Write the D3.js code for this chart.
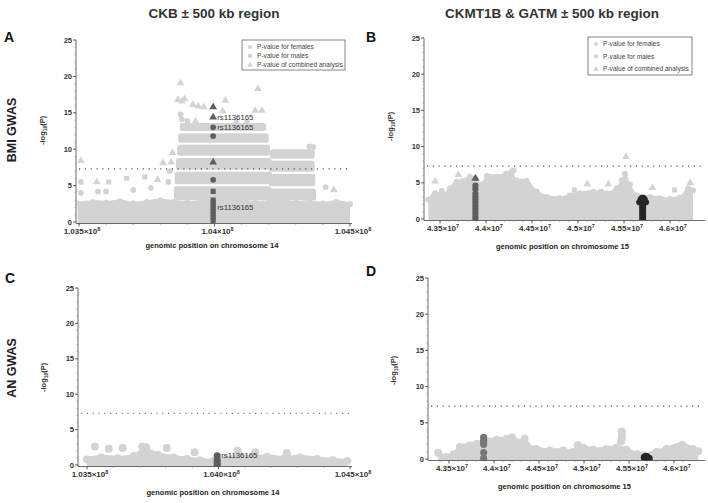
<!DOCTYPE html>
<html lang="en">
<head>
<meta charset="utf-8">
<title>CKB and CKMT1B / GATM regional plots</title>
<script src="https://d3js.org/d3.v7.min.js"></script>
<style>
  body { margin: 0; background: #fff; }
  svg text { font-family: "Liberation Sans", Arial, sans-serif; }
</style>
</head>
<body>
<div id="vis"></div>
<script>
// positions in Mb, values are -log10(P)
const yTicks = [0, 5, 10, 15, 20, 25];
const sigLevel = 7.3;
const snpName = "rs1136165";

const chr14Ticks = [103.5, 104.0, 104.5];
const chr14LabelsA = ["1.035", "1.04", "1.045"];
const chr14LabelsC = ["1.035", "1.040", "1.045"];
const chr15Ticks = [43.5, 44.0, 44.5, 45.0, 45.5, 46.0];
const chr15Labels = ["4.35", "4.4", "4.45", "4.5", "4.55", "4.6"];

const legendLabels = ["P-value for females", "P-value for males", "P-value of combined analysis"];

// ---- panel A : BMI GWAS, CKB region ----
const envPosA = [103.495, 103.55, 103.6, 103.65, 103.7, 103.75, 103.8, 103.85, 103.9, 103.95, 104.0, 104.05, 104.1, 104.15, 104.2, 104.25, 104.3, 104.35, 104.4, 104.45, 104.5];
const envValA = [2.8, 3.0, 2.9, 3.1, 2.8, 3.0, 3.2, 3.0, 2.9, 3.0, 3.2, 3.0, 3.1, 2.9, 3.0, 3.1, 2.9, 3.0, 2.8, 3.0, 2.7];
// stacked rows of SNPs in the association peak
const rowStartA = [103.85, 103.853, 103.858, 103.862, 103.866, 103.872, 104.2, 104.2, 104.2, 104.205];
const rowEndA   = [104.21, 104.212, 104.21, 104.205, 104.2, 104.19, 104.375, 104.372, 104.37, 104.37];
const rowLowA   = [3.0, 5.2, 7.2, 9.1, 10.9, 12.5, 3.0, 4.9, 6.9, 8.7];
const rowHighA  = [4.9, 6.9, 8.8, 10.6, 12.2, 13.6, 4.6, 6.6, 8.4, 10.0];
const outPosA = [103.507, 103.507, 103.507, 103.566, 103.61, 103.57, 103.6, 103.676, 103.70, 103.743, 103.79, 103.765, 103.81, 103.845, 103.83,
                 103.875, 103.865, 103.88, 103.89, 103.875, 103.92, 103.94, 103.96, 104.04, 104.03, 104.16, 104.15, 104.175, 104.41, 104.44,
                 103.9, 103.93, 104.08, 104.12, 103.88, 104.35, 104.365, 103.835, 103.84];
const outValA = [8.4, 5.5, 4.0, 5.5, 5.5, 4.2, 4.2, 6.0, 4.4, 6.2, 5.8, 4.7, 8.1, 9.5, 5.5,
                 19.1, 16.8, 16.6, 16.9, 14.8, 16.1, 15.9, 15.8, 16.7, 15.2, 18.3, 15.3, 15.3, 4.8, 4.4,
                 13.9, 13.8, 13.8, 13.7, 14.1, 10.4, 10.3, 7.0, 8.2];
const outShapeA = ["t", "c", "c", "t", "s", "c", "c", "s", "c", "s", "t", "c", "t", "t", "c",
                   "t", "t", "t", "t", "c", "t", "t", "t", "t", "t", "t", "t", "t", "c", "t",
                   "c", "t", "t", "c", "c", "c", "c", "c", "t"];
const snpPosA = 103.995;
const snpValA = [15.8, 14.4, 13.0, 11.8, 8.2, 5.8, 4.2, 3.0, 2.6, 2.2, 1.8, 1.4, 1.0, 0.6, 0.2];
const snpShapeA = ["t", "t", "c", "c", "t", "c", "s", "s", "s", "s", "s", "s", "s", "s", "s"];
const snpLabelValA = [14.4, 13.0, 2.0];

// ---- panel B : BMI GWAS, CKMT1B & GATM region ----
const envPosB = [43.373, 43.446, 43.536, 43.609, 43.68, 43.75, 43.826, 43.88, 43.95, 44.01, 44.12, 44.22, 44.28, 44.33, 44.44, 44.55, 44.66, 44.8,
                 44.91, 45.02, 45.17, 45.31, 45.42, 45.475, 45.51, 45.565, 45.64, 45.78, 45.89, 46.0, 46.11, 46.2, 46.25];
const envValB = [2.9, 3.8, 3.6, 4.5, 5.4, 5.5, 6.1, 5.8, 5.0, 6.2, 6.1, 6.5, 6.8, 5.6, 5.5, 4.0, 3.3, 3.1,
                 3.5, 3.8, 4.0, 3.8, 4.5, 5.6, 6.5, 5.0, 3.5, 3.3, 3.1, 3.0, 3.2, 4.5, 4.2];
const outPosB = [43.446, 43.52, 45.52, 45.1, 45.33, 45.81, 45.25, 46.05, 46.22, 44.96, 43.7, 44.3];
const outValB = [5.2, 3.9, 8.6, 4.8, 4.8, 4.3, 3.8, 4.0, 5.0, 4.0, 6.1, 6.7];
const outShapeB = ["t", "c", "t", "t", "t", "t", "s", "s", "t", "s", "t", "c"];
const ckmtPosB = 43.885;
const ckmtValB = [5.6, 4.6, 4.1, 3.5, 3.1, 2.7, 2.3, 1.9, 1.5, 1.1, 0.7, 0.3, 0.0];
const ckmtShapeB = ["t", "c", "c", "c", "c", "c", "c", "c", "c", "c", "c", "c", "c"];
const gatmPosB = [45.665, 45.68, 45.695, 45.71, 45.725, 45.74];
const gatmTopB = [2.6, 3.0, 3.2, 3.2, 3.0, 2.6];

// ---- panel C : AN GWAS, CKB region ----
const envPosC = [103.5, 103.553, 103.617, 103.678, 103.716, 103.77, 103.83, 103.88, 103.93, 103.98, 104.03, 104.08, 104.13, 104.185, 104.25, 104.31, 104.375, 104.435, 104.49];
const envValC = [1.1, 1.4, 1.3, 1.6, 2.4, 1.8, 1.4, 1.2, 1.0, 0.9, 1.2, 1.6, 1.4, 1.5, 1.3, 1.4, 1.2, 1.0, 0.9];
const outPosC = [103.53, 103.583, 103.636, 103.71, 103.725, 103.803, 103.909, 104.072, 104.14, 104.26];
const outValC = [2.6, 2.3, 2.4, 2.6, 2.5, 2.4, 1.8, 2.0, 1.8, 1.7];
const snpPosC = 103.995;
const snpValC = [1.3, 0.7, 0.3, 0.0];

// ---- panel D : AN GWAS, CKMT1B & GATM region ----
const envPosD = [43.38, 43.47, 43.55, 43.62, 43.73, 43.81, 43.92, 44.03, 44.14, 44.2, 44.29, 44.36, 44.47, 44.62, 44.77, 44.88, 44.99, 45.1,
                 45.25, 45.36, 45.47, 45.59, 45.66, 45.75, 45.81, 45.92, 46.09, 46.21, 46.27];
const envValD = [1.2, 0.6, 1.0, 2.0, 2.2, 2.4, 2.8, 3.0, 3.1, 3.3, 2.6, 2.2, 1.7, 1.5, 1.5, 1.3, 1.9, 1.6,
                 1.7, 1.9, 1.6, 1.0, 0.8, 0.9, 1.3, 1.7, 2.3, 1.7, 1.4];
const outPosD = [44.34, 45.42, 45.42, 45.42, 45.41, 44.93];
const outValD = [2.8, 3.8, 3.3, 2.8, 2.4, 1.9];
const ckmtPosD = 43.885;
const ckmtValD = [3.0, 2.6, 2.3, 2.0, 0.9, 0.1];
const gatmPosD = [45.675, 45.69, 45.705, 45.72];
const gatmValD = [0.5, 0.6, 0.4, 0.3];

// ---- drawing ----
const W = 708, H = 503;
const grey = "#d3d3d3", darkGrey = "#5e5e5e", black = "#262626";

const svg = d3.select("#vis").append("svg")
  .attr("width", W).attr("height", H)
  .style("display", "block");

function sym(shape, size) {
  const t = shape === "t" ? d3.symbolTriangle : shape === "s" ? d3.symbolSquare : d3.symbolCircle;
  return d3.symbol().type(t).size(size)();
}

function drawPanel(p) {
  const x = d3.scaleLinear().domain(p.xDomain).range(p.xRange);
  const y = d3.scaleLinear().domain([0, 25]).range(p.yRange);
  const g = svg.append("g");
  const y0 = y(0);
  const axisY = y0 + 1.5;

  // clip to plot
  const clipId = "clip" + p.id;
  svg.append("clipPath").attr("id", clipId).append("rect")
    .attr("x", p.axisLeft + 1).attr("y", y(26)).attr("width", p.axisRight - p.axisLeft).attr("height", axisY - y(26));
  const plot = g.append("g").attr("clip-path", `url(#${clipId})`);

  // dense SNP cloud
  const area = d3.area()
    .x(d => x(d[0])).y0(y0 + 1).y1(d => y(d[1]))
    .curve(d3.curveMonotoneX);
  const env = p.envPos.map((v, i) => [v, p.envVal[i]]);
  plot.append("path").datum(env).attr("d", area).attr("fill", grey);
  plot.selectAll(null).data(env).enter().append("circle")
    .attr("cx", d => x(d[0])).attr("cy", d => y(d[1]) + p.r * 0.6)
    .attr("r", p.r).attr("fill", grey);

  if (p.rowStart) {
    plot.selectAll(null).data(p.rowStart).enter().append("rect")
      .attr("x", (d, i) => x(d))
      .attr("width", (d, i) => x(p.rowEnd[i]) - x(d))
      .attr("y", (d, i) => y(p.rowHigh[i]))
      .attr("height", (d, i) => y(p.rowLow[i]) - y(p.rowHigh[i]))
      .attr("rx", 2.5)
      .attr("fill", grey);
  }

  // significance threshold
  g.append("line")
    .attr("x1", p.axisLeft + 3).attr("x2", p.axisRight - 2)
    .attr("y1", y(sigLevel)).attr("y2", y(sigLevel))
    .attr("stroke", "#555").attr("stroke-width", 1.1)
    .attr("stroke-dasharray", "1.2,4.6");

  // outlying SNPs
  if (p.outPos) {
    plot.selectAll(null).data(p.outPos).enter().append("path")
      .attr("d", (d, i) => sym(p.outShape ? p.outShape[i] : "c", p.symSize))
      .attr("transform", (d, i) => `translate(${x(d)},${y(p.outVal[i])})`)
      .attr("fill", grey);
  }

  // highlighted SNPs
  (p.hi || []).forEach(h => {
    plot.selectAll(null).data(h.vals).enter().append("path")
      .attr("d", (d, i) => sym(h.shapes ? h.shapes[i] : "c", h.size || p.symSize))
      .attr("transform", d => `translate(${x(h.pos)},${y(d)})`)
      .attr("fill", h.color);
  });
  (p.blocks || []).forEach(b => {
    const pts = b.pos.map((v, i) => [v, b.top[i]]);
    const a2 = d3.area().x(d => x(d[0])).y0(y0 + 1).y1(d => y(d[1])).curve(d3.curveMonotoneX);
    plot.append("path").datum(pts).attr("d", a2).attr("fill", b.color);
    plot.selectAll(null).data(pts).enter().append("circle")
      .attr("cx", d => x(d[0])).attr("cy", d => y(d[1]) + 2).attr("r", b.r)
      .attr("fill", b.color);
  });

  // SNP labels
  (p.labels || []).forEach(v => {
    g.append("text").attr("x", x(p.labelPos) + 4).attr("y", y(v) + 2.7)
      .attr("font-size", 7.8).attr("fill", "#333").text(snpName);
  });

  // y axis
  g.append("line").attr("x1", p.axisLeft).attr("x2", p.axisLeft)
    .attr("y1", y(25)).attr("y2", axisY).attr("stroke", "#444").attr("stroke-width", 0.8);
  const minor = d3.range(0, 26, 1);
  g.selectAll(null).data(minor).enter().append("line")
    .attr("x1", p.axisLeft - 1.5).attr("x2", p.axisLeft)
    .attr("y1", d => y(d)).attr("y2", d => y(d))
    .attr("stroke", "#888").attr("stroke-width", 0.6);
  g.selectAll(null).data(yTicks).enter().append("line")
    .attr("x1", p.axisLeft - 3).attr("x2", p.axisLeft)
    .attr("y1", d => y(d)).attr("y2", d => y(d))
    .attr("stroke", "#444").attr("stroke-width", 0.8);
  g.selectAll(null).data(yTicks).enter().append("text")
    .attr("x", p.axisLeft - 4).attr("y", d => y(d) + 2.6)
    .attr("text-anchor", "end").attr("font-size", 7.5).attr("font-weight", "bold").attr("fill", "#333")
    .text(d => d);

  // x axis
  g.append("line").attr("x1", p.axisLeft).attr("x2", p.axisRight)
    .attr("y1", axisY).attr("y2", axisY).attr("stroke", "#444").attr("stroke-width", 0.8);
  const xm = d3.range(p.xMinorStart, p.xDomain[1] + 0.15, p.xMinorStep)
    .filter(v => x(v) > p.axisLeft && x(v) < p.axisRight);
  g.selectAll(null).data(xm).enter().append("line")
    .attr("x1", d => x(d)).attr("x2", d => x(d))
    .attr("y1", axisY).attr("y2", axisY + 1.5).attr("stroke", "#888").attr("stroke-width", 0.6);
  g.selectAll(null).data(p.xTicks).enter().append("line")
    .attr("x1", d => x(d)).attr("x2", d => x(d))
    .attr("y1", axisY).attr("y2", axisY + 3).attr("stroke", "#444").attr("stroke-width", 0.8);
  const tl = g.selectAll(null).data(p.xTicks).enter().append("text")
    .attr("x", d => x(d) + 3).attr("y", axisY + 10.5)
    .attr("text-anchor", "middle").attr("font-size", 8).attr("font-weight", "bold").attr("fill", "#333");
  tl.append("tspan").text((d, i) => p.xLabels[i] + "×10");
  tl.append("tspan").attr("dy", -3).attr("font-size", 5.5).text(p.exp);

  // axis titles
  g.append("text").attr("x", (p.axisLeft + p.axisRight) / 2 - 2).attr("y", p.xTitleY)
    .attr("text-anchor", "middle").attr("font-size", 7.5).attr("font-weight", "bold").attr("fill", "#222")
    .text(p.xTitle);
  const yl = g.append("text")
    .attr("transform", `translate(${p.yTitleX},${p.yTitleBottom}) rotate(-90)`)
    .attr("text-anchor", "start").attr("font-size", 7.5).attr("font-weight", "bold").attr("fill", "#333");
  yl.append("tspan").text("-log");
  yl.append("tspan").attr("dy", 2).attr("font-size", 5).text("10");
  yl.append("tspan").attr("dy", -2).text("(P)");

  // panel letter
  g.append("text").attr("x", p.letterX).attr("y", p.letterY)
    .attr("font-size", 14).attr("font-weight", "bold").attr("fill", "#111").text(p.id);

  // legend
  if (p.legend) {
    const L = p.legend;
    g.append("rect").attr("x", L.x).attr("y", L.y).attr("width", L.w).attr("height", L.h)
      .attr("fill", "#fff").attr("stroke", "#666").attr("stroke-width", 0.8);
    const shapes = ["c", "s", "t"];
    legendLabels.forEach((t, i) => {
      const ly = L.y + L.pad + i * L.step;
      g.append("path").attr("d", sym(shapes[i], 14))
        .attr("transform", `translate(${L.x + 8},${ly})`).attr("fill", grey);
      g.append("text").attr("x", L.x + 15).attr("y", ly + 2.3)
        .attr("font-size", 6.6).attr("fill", "#444").text(t);
    });
  }
}

drawPanel({
  id: "A", xDomain: [103.5, 104.5], xRange: [79, 350], yRange: [222, 40],
  axisLeft: 76, axisRight: 352, xTicks: chr14Ticks, xLabels: chr14LabelsA, exp: "8",
  xMinorStart: 103.4, xMinorStep: 0.1,
  xTitle: "genomic position on chromosome 14", xTitleY: 248, yTitleX: 45, yTitleBottom: 145,
  letterX: 4, letterY: 42, r: 3, symSize: 26,
  envPos: envPosA, envVal: envValA,
  rowStart: rowStartA, rowEnd: rowEndA, rowLow: rowLowA, rowHigh: rowHighA,
  outPos: outPosA, outVal: outValA, outShape: outShapeA,
  hi: [{ pos: snpPosA, vals: snpValA, shapes: snpShapeA, color: darkGrey }],
  labels: snpLabelValA, labelPos: snpPosA,
  legend: { x: 242, y: 40, w: 103, h: 30, pad: 7, step: 9 }
});

drawPanel({
  id: "B", xDomain: [43.5, 46.0], xRange: [440, 670], yRange: [219, 38],
  axisLeft: 424, axisRight: 705, xTicks: chr15Ticks, xLabels: chr15Labels, exp: "7",
  xMinorStart: 43.4, xMinorStep: 0.1,
  xTitle: "genomic position on chromosome 15", xTitleY: 249, yTitleX: 393, yTitleBottom: 141,
  letterX: 366, letterY: 42, r: 3, symSize: 26,
  envPos: envPosB, envVal: envValB,
  outPos: outPosB, outVal: outValB, outShape: outShapeB,
  hi: [{ pos: ckmtPosB, vals: ckmtValB, shapes: ckmtShapeB, color: darkGrey, size: 30 }],
  blocks: [{ pos: gatmPosB, top: gatmTopB, color: black, r: 3 }],
  legend: { x: 588, y: 37, w: 104, h: 38, pad: 7, step: 12.5 }
});

drawPanel({
  id: "C", xDomain: [103.5, 104.5], xRange: [87, 350], yRange: [465, 288],
  axisLeft: 78, axisRight: 352, xTicks: chr14Ticks, xLabels: chr14LabelsC, exp: "8",
  xMinorStart: 103.4, xMinorStep: 0.1,
  xTitle: "genomic position on chromosome 14", xTitleY: 495, yTitleX: 46, yTitleBottom: 392,
  letterX: 5, letterY: 283, r: 4, symSize: 50,
  envPos: envPosC, envVal: envValC,
  outPos: outPosC, outVal: outValC,
  hi: [{ pos: snpPosC, vals: snpValC, color: darkGrey, size: 40 }],
  labels: [snpValC[0]], labelPos: snpPosC
});

drawPanel({
  id: "D", xDomain: [43.5, 46.0], xRange: [449, 674], yRange: [459, 278],
  axisLeft: 428, axisRight: 705, xTicks: chr15Ticks, xLabels: chr15Labels, exp: "7",
  xMinorStart: 43.4, xMinorStep: 0.1,
  xTitle: "genomic position on chromosome 15", xTitleY: 489, yTitleX: 396, yTitleBottom: 385,
  letterX: 366, letterY: 276, r: 4, symSize: 50,
  envPos: envPosD, envVal: envValD,
  outPos: outPosD, outVal: outValD,
  hi: [{ pos: ckmtPosD, vals: ckmtValD, color: "#777", size: 40 }],
  blocks: [{ pos: gatmPosD, top: gatmValD, color: black, r: 4 }]
});

// column titles and row titles
svg.append("text").attr("x", 214).attr("y", 18).attr("text-anchor", "middle")
  .attr("font-size", 13.5).attr("font-weight", "bold").attr("fill", "#333").text("CKB ± 500 kb region");
svg.append("text").attr("x", 552).attr("y", 18).attr("text-anchor", "middle")
  .attr("font-size", 13.5).attr("font-weight", "bold").attr("fill", "#333").text("CKMT1B & GATM ± 500 kb region");
svg.append("text").attr("transform", "translate(16,130) rotate(-90)").attr("text-anchor", "middle")
  .attr("font-size", 12.5).attr("font-weight", "bold").attr("fill", "#222").text("BMI GWAS");
svg.append("text").attr("transform", "translate(16,368) rotate(-90)").attr("text-anchor", "middle")
  .attr("font-size", 12.5).attr("font-weight", "bold").attr("fill", "#222").text("AN GWAS");
</script>
</body>
</html>
